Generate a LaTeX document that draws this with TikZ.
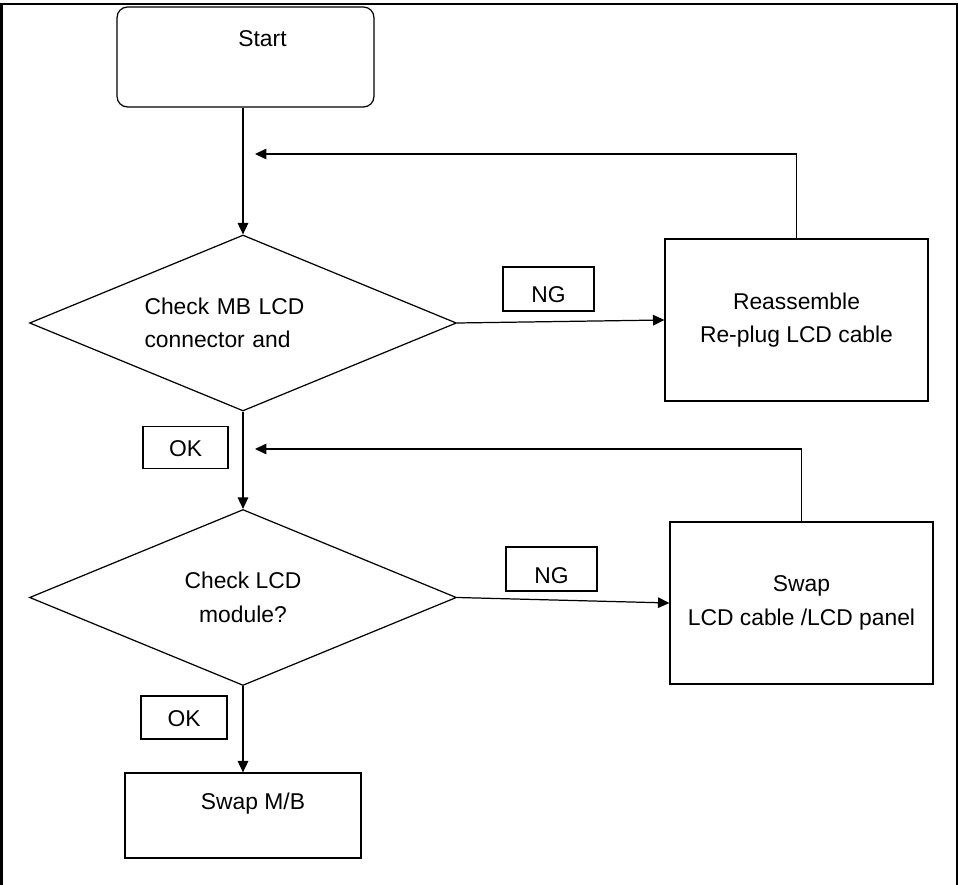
\documentclass[tikz,border=0pt]{standalone}
\usepackage{fontspec}
\setmainfont{Liberation Sans}
\usetikzlibrary{arrows.meta,positioning,shapes.geometric,calc}
\tikzset{
  fc/start/.style={draw, rounded corners=6pt, line width=0.7pt, minimum width=5.14cm, minimum height=2cm},
  fc/process/.style={draw, line width=0.7pt, minimum width=5.26cm, minimum height=3.24cm, align=center},
  fc/decision/.style={draw, diamond, aspect=2.43, line width=0.7pt, minimum width=8.54cm, minimum height=3.52cm, inner sep=0pt},
  fc/tag/.style={draw, line width=0.7pt, minimum width=1.82cm, minimum height=0.88cm},
  fc/txt/.style={inner sep=0pt},
  fc/line/.style={line width=0.7pt},
  fc/arrow/.style={fc/line, -{Triangle[length=6.5pt,width=6pt]}},
  fc/frame/.style={line width=1.6pt}
}

\begin{document}
\begin{tikzpicture}[x=0.02cm, y=-0.02cm, font=\fontsize{13}{19}\selectfont]
  \useasboundingbox (0,0) rectangle (958,885);
  \draw[fc/frame] (1.5,885) -- (1.5,4) -- (958,4);
  \draw[fc/frame] (957,4) -- (957,885);

  \node[fc/start, label={[fc/txt, shift={(17,-18)}]center:Start}] (start) at (245.5,57) {};
  \node[fc/decision, text width=3.94cm, align=left] (chkmb) at (243,323) {Check MB LCD\\connector and};
  \node[fc/process] (replug) at (796.5,320) {Reassemble\\Re-plug LCD cable};
  \node[fc/decision, align=center] (chklcd) at (243,597.5) {Check LCD\\module?};
  \node[fc/process] (swaplcd) at (801.5,603) {Swap\\LCD cable /LCD panel};
  \node[fc/process, minimum width=4.72cm, minimum height=1.7cm, label={[fc/txt, shift={(10,-11.5)}]center:Swap M/B}] (swapmb) at (243,815.5) {};

  % NG / OK tags
  \node[fc/tag, label={[fc/txt, shift={(0,6)}]center:NG}] (ng1) at (548.5,289) {};
  \node[fc/tag, label={[fc/txt, shift={(0,7)}]center:NG}] (ng2) at (551.5,569) {};
  \node[fc/tag, minimum width=1.7cm, minimum height=0.84cm, label={[fc/txt, shift={(0,1)}]center:OK}] (ok1) at (185.5,447.5) {};
  \node[fc/tag, minimum width=1.72cm, minimum height=0.86cm, label={[fc/txt, shift={(0,1.5)}]center:OK}] (ok2) at (184,717.5) {};

  \draw[fc/arrow] (start.south -| chkmb.north) -- (chkmb.north);
  \draw[fc/arrow] (chkmb.east) -- (replug.west);
  \draw[fc/arrow] (chkmb.south) -- (chklcd.north);
  \draw[fc/arrow] (chklcd.east) -- (swaplcd.west);
  \draw[fc/arrow] (chklcd.south) -- (swapmb.north);

  % loops back to the main line
  \coordinate (back1) at (255,154);
  \coordinate (back2) at (255,449);
  \draw[fc/arrow] (replug.north) |- (back1);
  \draw[fc/arrow] (swaplcd.north) |- (back2);
\end{tikzpicture}
\end{document}
